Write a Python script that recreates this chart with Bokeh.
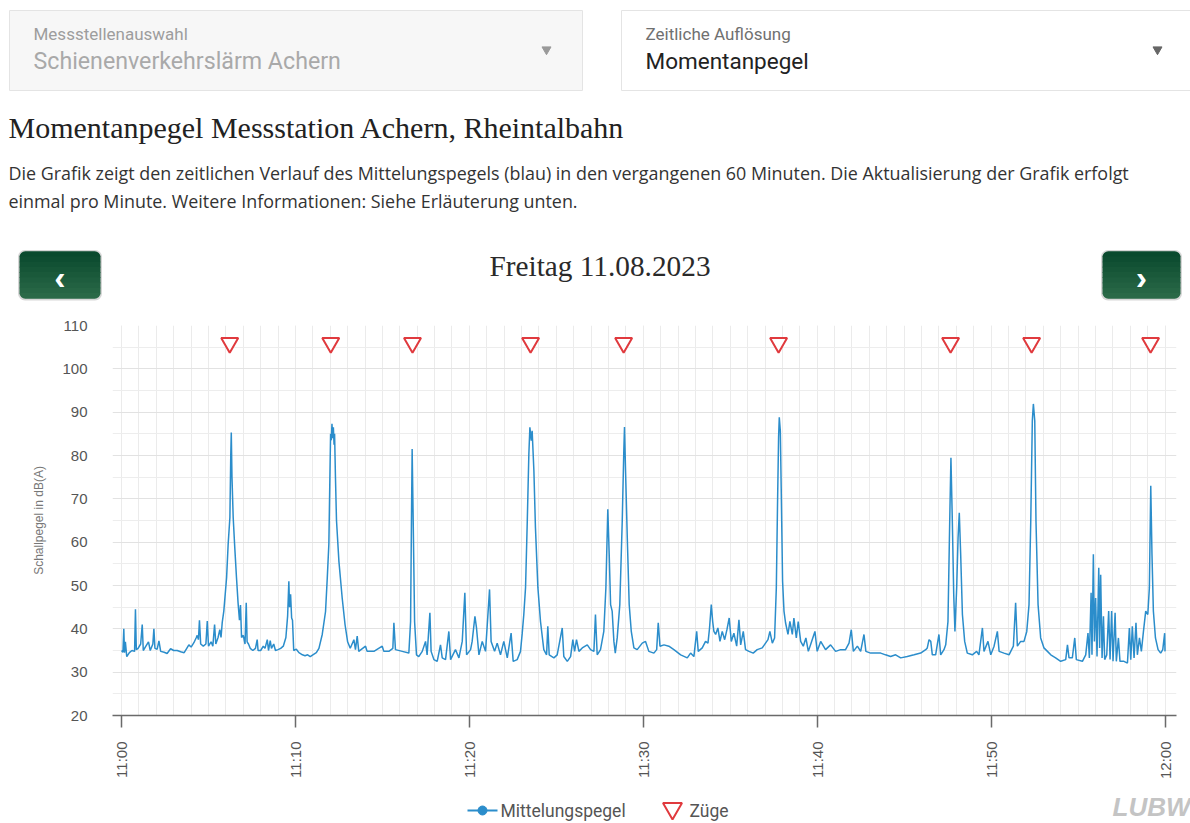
import math
from bokeh.plotting import figure
from bokeh.models import Range1d, FixedTicker, BoxAnnotation, Label
from bokeh.layouts import column
from bokeh.core.properties import value
from bokeh.embed import file_html
from bokeh.resources import INLINE

# ---------------- data (minutes after 11:00, level in dB(A)) ----------------
t_min = [
    0.00, 0.08, 0.13, 0.17, 0.22, 0.30, 0.45, 0.60, 0.75, 0.80, 0.85, 0.95, 1.10, 1.19, 1.25,
    1.40, 1.55, 1.65, 1.80, 1.86, 1.92, 2.05, 2.15, 2.25, 2.45, 2.62, 2.82, 3.00, 3.20, 3.40,
    3.60, 3.75, 3.87, 4.00, 4.16, 4.30, 4.35, 4.42, 4.48, 4.55, 4.70, 4.85, 4.93, 5.00, 5.15,
    5.25, 5.35, 5.42, 5.55, 5.65, 5.72, 5.79, 5.88, 6.04, 6.13, 6.23, 6.28, 6.31, 6.35, 6.42,
    6.50, 6.61, 6.70, 6.78, 6.84, 6.90, 7.00, 7.10, 7.17, 7.22, 7.30, 7.40, 7.55, 7.70, 7.80,
    7.85, 8.00, 8.15, 8.25, 8.38, 8.45, 8.55, 8.62, 8.75, 8.85, 9.00, 9.15, 9.30, 9.45, 9.55,
    9.62, 9.66, 9.72, 9.78, 9.83, 9.90, 10.05, 10.20, 10.40, 10.55, 10.70, 10.85, 11.00, 11.20,
    11.35, 11.54, 11.73, 11.83, 11.92, 11.98, 12.02, 12.06, 12.10, 12.14, 12.18, 12.22, 12.25,
    12.30, 12.36, 12.50, 12.69, 12.85, 13.00, 13.15, 13.36, 13.45, 13.55, 13.64, 14.03, 14.12,
    14.51, 14.99, 15.08, 15.37, 15.60, 15.66, 15.75, 16.14, 16.52, 16.62, 16.67, 16.71, 16.77,
    16.85, 16.96, 17.09, 17.29, 17.48, 17.57, 17.73, 17.80, 17.96, 18.15, 18.34, 18.44, 18.63,
    18.82, 18.92, 19.20, 19.40, 19.59, 19.74, 19.84, 20.07, 20.16, 20.32, 20.41, 20.55, 20.74,
    20.93, 21.16, 21.25, 21.45, 21.60, 21.79, 21.98, 22.18, 22.40, 22.52, 22.75, 22.94, 23.04,
    23.13, 23.23, 23.33, 23.42, 23.48, 23.56, 23.61, 23.71, 23.80, 23.94, 24.09, 24.28, 24.44,
    24.51, 24.59, 24.86, 25.05, 25.34, 25.43, 25.63, 25.82, 25.95, 26.05, 26.16, 26.30, 26.49,
    26.78, 26.97, 27.16, 27.25, 27.35, 27.54, 27.73, 27.85, 27.96, 28.04, 28.12, 28.21, 28.31,
    28.39, 28.50, 28.65, 28.79, 28.88, 28.92, 28.98, 29.08, 29.19, 29.31, 29.46, 29.65, 29.94,
    30.13, 30.32, 30.61, 30.77, 30.86, 30.96, 31.19, 31.47, 31.76, 32.15, 32.53, 32.72, 32.91,
    33.07, 33.16, 33.39, 33.58, 33.72, 33.81, 33.91, 33.99, 34.06, 34.16, 34.29, 34.41, 34.54,
    34.68, 34.81, 34.94, 35.06, 35.21, 35.37, 35.50, 35.60, 35.75, 35.88, 36.08, 36.32, 36.55,
    36.84, 37.03, 37.17, 37.28, 37.42, 37.55, 37.65, 37.72, 37.78, 37.82, 37.88, 37.93, 38.01,
    38.09, 38.18, 38.32, 38.43, 38.57, 38.66, 38.80, 38.91, 39.05, 39.20, 39.35, 39.49, 39.68,
    39.87, 40.00, 40.20, 40.48, 40.77, 41.06, 41.35, 41.63, 41.83, 41.96, 42.08, 42.31, 42.50,
    42.69, 42.80, 43.07, 43.36, 43.65, 43.93, 44.22, 44.51, 44.80, 45.18, 45.57, 45.95, 46.24,
    46.33, 46.43, 46.53, 46.62, 46.81, 47.00, 47.10, 47.29, 47.39, 47.52, 47.62, 47.69, 47.77,
    47.85, 47.92, 48.02, 48.10, 48.17, 48.25, 48.35, 48.48, 48.63, 48.92, 49.17, 49.30, 49.50,
    49.59, 49.82, 49.98, 50.17, 50.36, 50.46, 50.74, 51.03, 51.28, 51.41, 51.51, 51.70, 51.89,
    52.05, 52.18, 52.28, 52.37, 52.43, 52.51, 52.58, 52.70, 52.85, 53.04, 53.24, 53.43, 53.71,
    54.00, 54.29, 54.39, 54.48, 54.67, 54.81, 54.90, 55.25, 55.44, 55.57, 55.65, 55.75, 55.80,
    55.88, 55.94, 56.01, 56.09, 56.19, 56.24, 56.30, 56.38, 56.46, 56.53, 56.65, 56.76, 56.84,
    56.93, 57.01, 57.13, 57.20, 57.32, 57.41, 57.64, 57.84, 57.95, 58.03, 58.12, 58.22, 58.33,
    58.41, 58.53, 58.64, 58.76, 58.89, 59.01, 59.10, 59.18, 59.25, 59.33, 59.45, 59.60, 59.75,
    59.87, 59.98, 60.00,
]
level_db = [
    35.0, 34.6, 40.0, 34.5, 37.0, 33.6, 34.5, 35.0, 34.8, 44.5, 35.2, 35.5, 36.5, 41.0, 35.0,
    36.0, 37.0, 35.0, 36.5, 40.0, 35.5, 35.3, 37.2, 34.8, 34.6, 34.3, 35.4, 35.0, 35.0, 34.7,
    34.5, 35.5, 36.3, 35.8, 36.8, 38.0, 38.5, 37.5, 42.0, 36.5, 36.0, 36.5, 41.8, 36.0, 37.0,
    36.0, 41.0, 36.5, 38.0, 39.8, 38.0, 41.5, 44.1, 51.8, 59.5, 65.7, 80.0, 85.3, 75.0, 65.7,
    59.5, 51.8, 46.0, 42.0, 45.5, 38.0, 38.5, 36.5, 46.0, 37.0, 36.5, 35.5, 35.0, 35.5, 37.5,
    35.0, 35.0, 36.0, 35.5, 37.5, 35.0, 37.3, 35.5, 36.5, 35.0, 35.2, 35.5, 36.0, 38.0, 43.0,
    51.0, 45.0, 48.0, 42.5, 42.0, 35.0, 35.3, 34.5, 34.0, 33.8, 34.0, 33.6, 34.0, 34.5,
    35.5, 38.7, 44.0, 51.8, 59.5, 75.0, 85.0, 83.5, 87.3, 84.0, 86.5, 82.5, 85.0,
    75.0, 65.0, 55.5, 47.0, 41.0, 37.0, 35.5, 37.5, 35.2, 38.3, 34.8, 36.0, 34.8,
    34.8, 36.0, 34.8, 34.8, 35.5, 41.4, 35.2, 34.8, 34.4, 41.7, 64.9, 81.5, 64.9,
    41.7, 34.0, 33.6, 34.8, 37.1, 34.0, 43.7, 34.8, 32.9, 32.5, 36.3, 33.3, 32.9,
    39.4, 32.9, 35.2, 33.3, 37.1, 48.3, 34.0, 35.2, 37.1, 42.9, 40.2, 34.0, 37.1,
    34.8, 49.1, 37.1, 34.8, 36.7, 34.0, 37.1, 33.3, 39.0, 32.5, 32.9, 34.8, 39.0,
    43.3, 49.5, 64.9, 80.3, 86.5, 83.4, 85.7, 76.5, 63.3, 49.5, 41.7, 35.2, 34.0,
    40.6, 34.0, 33.3, 34.0, 40.2, 33.6, 32.5, 33.6, 37.5, 34.8, 37.5, 34.8, 35.6,
    36.3, 35.2, 34.8, 43.3, 34.0, 35.2, 39.4, 49.5, 67.6, 57.2, 45.6, 44.1, 37.1,
    34.4, 37.9, 45.6, 64.9, 81.0, 86.6, 76.5, 61.0, 45.6, 39.4, 35.6, 35.2, 36.7,
    37.1, 34.8, 34.4, 35.2, 41.4, 36.0, 36.3, 36.0, 35.2, 34.0, 33.3, 34.4, 33.6,
    39.4, 34.8, 35.6, 37.1, 36.7, 40.2, 45.6, 41.7, 39.4, 38.7, 40.2, 37.1, 39.4,
    37.5, 39.8, 42.5, 37.1, 39.0, 36.0, 42.1, 36.3, 39.4, 35.2, 34.8, 34.4, 35.2,
    35.6, 36.7, 37.5, 39.4, 36.7, 37.9, 49.5, 69.0, 84.2, 88.8, 85.7, 72.6, 51.0,
    44.1, 41.4, 38.7, 41.7, 38.7, 42.5, 37.9, 41.7, 37.1, 36.0, 37.9, 34.8, 37.1,
    39.4, 34.8, 37.1, 35.2, 36.3, 34.8, 35.2, 35.2, 36.7, 39.8, 34.8, 36.0, 34.8,
    38.7, 34.8, 34.4, 34.4, 34.4, 34.0, 33.6, 34.0, 33.3, 33.6, 34.0, 34.4, 35.2,
    35.6, 37.5, 37.1, 34.0, 34.0, 38.7, 34.0, 35.2, 36.3, 41.7, 64.9, 79.5, 64.9,
    48.0, 39.4, 49.5, 61.0, 66.8, 57.2, 43.3, 37.1, 34.4, 34.0, 34.8, 34.0, 40.2,
    34.8, 37.1, 34.0, 36.0, 39.4, 34.8, 34.4, 34.0, 36.0, 46.0, 36.0, 37.1, 37.1,
    39.4, 45.6, 64.9, 88.0, 91.9, 88.0, 64.9, 45.6, 37.9, 35.6, 34.8, 34.0, 33.3,
    32.5, 32.9, 36.3, 33.3, 33.3, 37.9, 32.9, 32.5, 34.0, 39.0, 33.3, 48.3, 34.0,
    57.2, 37.1, 47.1, 33.6, 54.1, 35.6, 52.5, 33.3, 42.9, 32.9, 34.0, 44.1, 32.9,
    44.1, 32.5, 43.7, 32.5, 37.9, 32.5, 32.5, 32.1, 40.2, 32.9, 40.6, 33.3, 41.4,
    34.0, 37.9, 34.8, 39.4, 44.1, 43.3, 49.5, 73.0, 57.2, 44.1, 37.9, 35.2, 34.4,
    35.2, 39.0, 34.8,
]
train_min = [6.22, 12.03, 16.73, 23.52, 28.87, 37.78, 47.67, 52.33, 59.17]
train_marker_db = [106, 106, 106, 106, 106, 106, 106, 106, 106]

x_ticks = [0, 10, 20, 30, 40, 50, 60]
x_tick_labels = ["11:00", "11:10", "11:20", "11:30", "11:40", "11:50", "12:00"]
y_ticks = [20, 30, 40, 50, 60, 70, 80, 90, 100, 110]
y_minor = [25, 35, 45, 55, 65, 75, 85, 95, 105]
legend_labels = ["Mittelungspegel", "Züge"]

title_text = "Momentanpegel Messstation Achern, Rheintalbahn"
intro_lines = [
    "Die Grafik zeigt den zeitlichen Verlauf des Mittelungspegels (blau) in den vergangenen 60 Minuten. Die Aktualisierung der Grafik erfolgt",
    "einmal pro Minute. Weitere Informationen: Siehe Erläuterung unten.",
]
date_text = "Freitag 11.08.2023"

BLUE = "#2b8dcb"
RED = "#e03a3e"
W = 1190

# ---------------- header (data x = page x, data y = -page y) ----------------
hdr = figure(width=W, height=318, x_range=Range1d(0, 1190), y_range=Range1d(-318, 0),
             x_axis_type=None, y_axis_type=None, output_backend="svg", toolbar_location=None,
             min_border=0, title=None, frame_align=False)
hdr.outline_line_color = None
hdr.grid.visible = False

hdr.quad(left=[9], right=[582], top=[-10], bottom=[-90], fill_color="#f7f7f7", line_color="#e4e4e4")
hdr.quad(left=[621], right=[1210], top=[-10], bottom=[-90], fill_color="#ffffff", line_color="#e4e4e4")

hdr.text(x=[33, 645], y=[-33, -33], text=["Messstellenauswahl", "Zeitliche Auflösung"],
         text_font=value("Roboto"), text_font_size=value("17px"), text_color=["#9d9d9d", "#707070"],
         text_baseline="middle", text_align="left")
hdr.text(x=[33, 645], y=[-60, -60], text=["Schienenverkehrslärm Achern", "Momentanpegel"],
         text_font=value("Roboto"), text_font_size=["23.2px", "22.5px"],
         text_color=["#a9a9a9", "#222222"], text_baseline="middle", text_align="left")
hdr.scatter(x=[546, 1157], y=[-49, -49], marker="inverted_triangle", size=9,
            fill_color=["#9a9a9a", "#666666"], line_color=["#9a9a9a", "#666666"])

hdr.text(x=[8], y=[-127], text=[title_text], text_font=value("Liberation Serif"),
         text_font_size=value("30px"), text_color="#222222", text_baseline="middle", text_align="left")
hdr.text(x=[8, 8], y=[-172, -200], text=intro_lines, text_font=value("Open Sans"),
         text_font_size=value("17.9px"), text_color="#333333", text_baseline="middle", text_align="left")
hdr.text(x=[599.5], y=[-265], text=[date_text], text_font=value("Liberation Serif"),
         text_font_size=value("29.3px"), text_color="#2a2a2a", text_baseline="middle", text_align="center")

# navigation buttons (vertical gradient approximated by bands)
band_cols = ["#0a4a2e", "#0e4d31", "#125134", "#165537", "#1a593a", "#1e5d3e",
             "#226141", "#266544", "#2a6947"]
for (bl, br) in [(19, 100), (1102, 1180)]:
    hdr.add_layout(BoxAnnotation(left=bl - 1.5, right=br + 1.5, top=-249.5, bottom=-300,
                                 fill_color="#000000", fill_alpha=0.16, line_color=None, border_radius=7))
    top, h = 251.0, 47.0 / len(band_cols)
    for i, c in enumerate(band_cols):
        if i == 0:
            rad = (6, 6, 0, 0)
        elif i == len(band_cols) - 1:
            rad = (0, 0, 6, 6)
        else:
            rad = 0
        hdr.add_layout(BoxAnnotation(left=bl, right=br, top=-(top + i * h) + 0.3, bottom=-(top + (i + 1) * h) - 0.3,
                                     fill_color=c, fill_alpha=1.0, line_color=None, border_radius=rad))
hdr.add_layout(Label(x=59.5, y=-276, text="‹", text_color="white", text_font="Liberation Sans",
                     text_font_size="34px", text_font_style="bold", text_align="center", text_baseline="middle"))
hdr.add_layout(Label(x=1141, y=-276, text="›", text_color="white", text_font="Liberation Sans",
                     text_font_size="34px", text_font_style="bold", text_align="center", text_baseline="middle"))

# ---------------- chart ----------------
p = figure(width=W, height=471, x_range=Range1d(-0.52, 60.66), y_range=Range1d(20, 110),
           output_backend="svg", toolbar_location=None, title=None, frame_align=False,
           min_border_left=112, min_border_right=14, min_border_top=7, min_border_bottom=74)
p.outline_line_color = None

p.xaxis.ticker = FixedTicker(ticks=x_ticks, minor_ticks=list(range(0, 61)))
p.xaxis.major_label_overrides = dict(zip(x_ticks, x_tick_labels))
p.xaxis.major_label_orientation = math.pi / 2
p.xaxis.minor_tick_line_color = None
p.xaxis.major_tick_out = 12
p.xaxis.major_tick_in = 0
p.xaxis.axis_line_color = "#6a6a6a"
p.xaxis.axis_line_width = 1.5
p.xaxis.major_tick_line_color = "#6a6a6a"
p.xaxis.major_tick_line_width = 1.5
p.xaxis.major_label_standoff = 14
p.xaxis.major_label_text_font = "Liberation Sans"
p.xaxis.major_label_text_font_size = "15px"
p.xaxis.major_label_text_color = "#555555"

p.yaxis.ticker = FixedTicker(ticks=y_ticks, minor_ticks=y_minor)
p.yaxis.axis_line_color = None
p.yaxis.major_tick_line_color = None
p.yaxis.minor_tick_line_color = None
p.yaxis.major_label_standoff = 19
p.yaxis.major_label_text_font = "Liberation Sans"
p.yaxis.major_label_text_font_size = "15px"
p.yaxis.major_label_text_color = "#555555"
p.yaxis.axis_label = "Schallpegel in dB(A)"
p.yaxis.axis_label_text_font = "Liberation Sans"
p.yaxis.axis_label_text_font_size = "12px"
p.yaxis.axis_label_text_font_style = "normal"
p.yaxis.axis_label_text_color = "#777777"
p.yaxis.axis_label_standoff = 13

p.xgrid.grid_line_color = "#ebebeb"
p.xgrid.minor_grid_line_color = "#ebebeb"
p.ygrid.grid_line_color = "#e2e2e2"
p.ygrid.minor_grid_line_color = "#ededed"

p.line(t_min, level_db, line_color=BLUE, line_width=1.5)
p.scatter(train_min, train_marker_db, marker="inverted_triangle", size=17,
          fill_color="white", line_color=RED, line_width=2)

# ---------------- footer: legend + logo (data x = page x, data y = -page y) ----------------
ft = figure(width=W, height=33, x_range=Range1d(0, 1190), y_range=Range1d(-822, -789),
            x_axis_type=None, y_axis_type=None, output_backend="svg", toolbar_location=None,
            min_border=0, title=None, frame_align=False)
ft.outline_line_color = None
ft.grid.visible = False
ft.line(x=[467, 497], y=[-810, -810], line_color=BLUE, line_width=2)
ft.scatter(x=[482], y=[-810], marker="circle", size=9, fill_color=BLUE, line_color=BLUE)
ft.scatter(x=[672], y=[-808], marker="inverted_triangle", size=19, fill_color="white",
           line_color=RED, line_width=2)
ft.text(x=[500, 689], y=[-810, -810], text=legend_labels, text_font=value("Roboto"),
        text_font_size=value("17.5px"), text_color="#555555", text_baseline="middle", text_align="left")
ft.text(x=[1190], y=[-806], text=["LUBW"], text_font=value("Liberation Sans"), text_font_style="bold italic",
        text_font_size=value("26px"), text_color="#c4c4c4", text_align="right", text_baseline="middle")

layout = column(hdr, p, ft, spacing=0)
open("out.html", "w").write(file_html(layout, INLINE, "Momentanpegel"))
